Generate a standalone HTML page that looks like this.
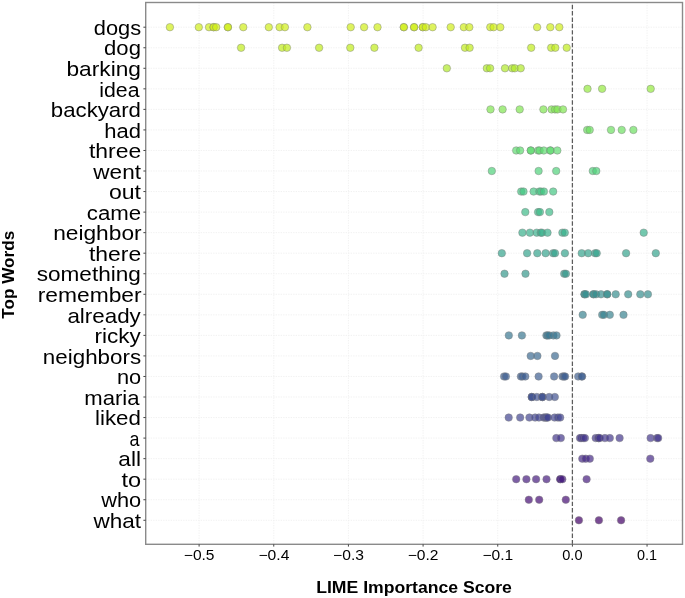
<!DOCTYPE html>
<html><head><meta charset="utf-8"><style>
html,body{margin:0;padding:0;background:#fff;}
body{width:685px;height:598px;overflow:hidden;}
svg{display:block;will-change:transform;font-family:"Liberation Sans",sans-serif;fill:#000;}
text{fill:#000;}
</style></head><body>
<svg width="685" height="598" viewBox="0 0 685 598">
<rect width="685" height="598" fill="#fff"/>
<path d="M199.10 2.50V544.30M273.76 2.50V544.30M348.42 2.50V544.30M423.08 2.50V544.30M497.74 2.50V544.30M572.40 2.50V544.30M647.06 2.50V544.30M145.70 27.20H682.50M145.70 47.75H682.50M145.70 68.29H682.50M145.70 88.84H682.50M145.70 109.38H682.50M145.70 129.93H682.50M145.70 150.47H682.50M145.70 171.01H682.50M145.70 191.56H682.50M145.70 212.11H682.50M145.70 232.65H682.50M145.70 253.19H682.50M145.70 273.74H682.50M145.70 294.29H682.50M145.70 314.83H682.50M145.70 335.38H682.50M145.70 355.92H682.50M145.70 376.47H682.50M145.70 397.01H682.50M145.70 417.56H682.50M145.70 438.10H682.50M145.70 458.65H682.50M145.70 479.19H682.50M145.70 499.74H682.50M145.70 520.28H682.50" stroke="#efefef" stroke-width="0.9" stroke-dasharray="1.3 1.2" fill="none"/>
<line x1="572.4" y1="544.3" x2="572.4" y2="2.5" stroke="#5c5c5c" stroke-width="1.25" stroke-dasharray="4.42 1.951"/>
<g fill="#d0ee19" fill-opacity="0.7" stroke="#808080" stroke-opacity="0.75" stroke-width="0.6"><circle cx="169.9" cy="27.20" r="3.75"/><circle cx="198.8" cy="27.20" r="3.75"/><circle cx="209.0" cy="27.20" r="3.75"/><circle cx="213.6" cy="27.20" r="3.75"/><circle cx="213.6" cy="27.20" r="3.75"/><circle cx="216.2" cy="27.20" r="3.75"/><circle cx="227.9" cy="27.20" r="3.75"/><circle cx="227.9" cy="27.20" r="3.75"/><circle cx="243.3" cy="27.20" r="3.75"/><circle cx="268.8" cy="27.20" r="3.75"/><circle cx="279.6" cy="27.20" r="3.75"/><circle cx="284.9" cy="27.20" r="3.75"/><circle cx="307.4" cy="27.20" r="3.75"/><circle cx="350.7" cy="27.20" r="3.75"/><circle cx="364.1" cy="27.20" r="3.75"/><circle cx="377.5" cy="27.20" r="3.75"/><circle cx="403.8" cy="27.20" r="3.75"/><circle cx="403.8" cy="27.20" r="3.75"/><circle cx="414.1" cy="27.20" r="3.75"/><circle cx="414.1" cy="27.20" r="3.75"/><circle cx="422.8" cy="27.20" r="3.75"/><circle cx="422.8" cy="27.20" r="3.75"/><circle cx="425.8" cy="27.20" r="3.75"/><circle cx="432.6" cy="27.20" r="3.75"/><circle cx="450.7" cy="27.20" r="3.75"/><circle cx="463.8" cy="27.20" r="3.75"/><circle cx="469.3" cy="27.20" r="3.75"/><circle cx="490.3" cy="27.20" r="3.75"/><circle cx="493.6" cy="27.20" r="3.75"/><circle cx="500.3" cy="27.20" r="3.75"/><circle cx="537.1" cy="27.20" r="3.75"/><circle cx="550.3" cy="27.20" r="3.75"/><circle cx="559.3" cy="27.20" r="3.75"/></g>
<g fill="#c1ec1b" fill-opacity="0.7" stroke="#808080" stroke-opacity="0.75" stroke-width="0.6"><circle cx="241.1" cy="47.75" r="3.75"/><circle cx="282.1" cy="47.75" r="3.75"/><circle cx="286.9" cy="47.75" r="3.75"/><circle cx="319.1" cy="47.75" r="3.75"/><circle cx="350.3" cy="47.75" r="3.75"/><circle cx="374.4" cy="47.75" r="3.75"/><circle cx="418.6" cy="47.75" r="3.75"/><circle cx="465.0" cy="47.75" r="3.75"/><circle cx="469.6" cy="47.75" r="3.75"/><circle cx="531.2" cy="47.75" r="3.75"/><circle cx="551.2" cy="47.75" r="3.75"/><circle cx="555.3" cy="47.75" r="3.75"/><circle cx="566.7" cy="47.75" r="3.75"/></g>
<g fill="#b1ea29" fill-opacity="0.7" stroke="#808080" stroke-opacity="0.75" stroke-width="0.6"><circle cx="446.8" cy="68.29" r="3.75"/><circle cx="486.8" cy="68.29" r="3.75"/><circle cx="490.1" cy="68.29" r="3.75"/><circle cx="505.0" cy="68.29" r="3.75"/><circle cx="512.2" cy="68.29" r="3.75"/><circle cx="514.8" cy="68.29" r="3.75"/><circle cx="520.7" cy="68.29" r="3.75"/></g>
<g fill="#94ea3e" fill-opacity="0.7" stroke="#808080" stroke-opacity="0.75" stroke-width="0.6"><circle cx="587.5" cy="88.84" r="3.75"/><circle cx="602.1" cy="88.84" r="3.75"/><circle cx="650.7" cy="88.84" r="3.75"/></g>
<g fill="#80e551" fill-opacity="0.7" stroke="#808080" stroke-opacity="0.75" stroke-width="0.6"><circle cx="490.5" cy="109.38" r="3.75"/><circle cx="502.6" cy="109.38" r="3.75"/><circle cx="519.7" cy="109.38" r="3.75"/><circle cx="543.4" cy="109.38" r="3.75"/><circle cx="551.6" cy="109.38" r="3.75"/><circle cx="555.0" cy="109.38" r="3.75"/><circle cx="557.5" cy="109.38" r="3.75"/><circle cx="563.0" cy="109.38" r="3.75"/></g>
<g fill="#6de062" fill-opacity="0.7" stroke="#808080" stroke-opacity="0.75" stroke-width="0.6"><circle cx="587.2" cy="129.93" r="3.75"/><circle cx="589.7" cy="129.93" r="3.75"/><circle cx="611.0" cy="129.93" r="3.75"/><circle cx="621.7" cy="129.93" r="3.75"/><circle cx="633.4" cy="129.93" r="3.75"/></g>
<g fill="#5fdb70" fill-opacity="0.7" stroke="#808080" stroke-opacity="0.75" stroke-width="0.6"><circle cx="516.2" cy="150.47" r="3.75"/><circle cx="520.1" cy="150.47" r="3.75"/><circle cx="530.8" cy="150.47" r="3.75"/><circle cx="530.8" cy="150.47" r="3.75"/><circle cx="538.1" cy="150.47" r="3.75"/><circle cx="539.6" cy="150.47" r="3.75"/><circle cx="543.8" cy="150.47" r="3.75"/><circle cx="550.4" cy="150.47" r="3.75"/><circle cx="550.4" cy="150.47" r="3.75"/><circle cx="557.3" cy="150.47" r="3.75"/></g>
<g fill="#50d17a" fill-opacity="0.7" stroke="#808080" stroke-opacity="0.75" stroke-width="0.6"><circle cx="491.8" cy="171.01" r="3.75"/><circle cx="538.6" cy="171.01" r="3.75"/><circle cx="556.2" cy="171.01" r="3.75"/><circle cx="592.8" cy="171.01" r="3.75"/><circle cx="596.3" cy="171.01" r="3.75"/></g>
<g fill="#45c683" fill-opacity="0.7" stroke="#808080" stroke-opacity="0.75" stroke-width="0.6"><circle cx="521.2" cy="191.56" r="3.75"/><circle cx="523.5" cy="191.56" r="3.75"/><circle cx="533.6" cy="191.56" r="3.75"/><circle cx="539.3" cy="191.56" r="3.75"/><circle cx="541.0" cy="191.56" r="3.75"/><circle cx="543.9" cy="191.56" r="3.75"/><circle cx="553.2" cy="191.56" r="3.75"/></g>
<g fill="#3ebb89" fill-opacity="0.7" stroke="#808080" stroke-opacity="0.75" stroke-width="0.6"><circle cx="525.3" cy="212.11" r="3.75"/><circle cx="538.1" cy="212.11" r="3.75"/><circle cx="539.9" cy="212.11" r="3.75"/><circle cx="549.3" cy="212.11" r="3.75"/></g>
<g fill="#37b08c" fill-opacity="0.7" stroke="#808080" stroke-opacity="0.75" stroke-width="0.6"><circle cx="522.4" cy="232.65" r="3.75"/><circle cx="529.9" cy="232.65" r="3.75"/><circle cx="536.7" cy="232.65" r="3.75"/><circle cx="540.7" cy="232.65" r="3.75"/><circle cx="542.0" cy="232.65" r="3.75"/><circle cx="547.5" cy="232.65" r="3.75"/><circle cx="562.4" cy="232.65" r="3.75"/><circle cx="564.8" cy="232.65" r="3.75"/><circle cx="643.7" cy="232.65" r="3.75"/></g>
<g fill="#35a48d" fill-opacity="0.7" stroke="#808080" stroke-opacity="0.75" stroke-width="0.6"><circle cx="501.8" cy="253.19" r="3.75"/><circle cx="527.1" cy="253.19" r="3.75"/><circle cx="537.3" cy="253.19" r="3.75"/><circle cx="545.6" cy="253.19" r="3.75"/><circle cx="553.1" cy="253.19" r="3.75"/><circle cx="555.0" cy="253.19" r="3.75"/><circle cx="564.9" cy="253.19" r="3.75"/><circle cx="581.7" cy="253.19" r="3.75"/><circle cx="588.2" cy="253.19" r="3.75"/><circle cx="595.1" cy="253.19" r="3.75"/><circle cx="596.7" cy="253.19" r="3.75"/><circle cx="626.1" cy="253.19" r="3.75"/><circle cx="655.8" cy="253.19" r="3.75"/></g>
<g fill="#36998c" fill-opacity="0.7" stroke="#808080" stroke-opacity="0.75" stroke-width="0.6"><circle cx="504.5" cy="273.74" r="3.75"/><circle cx="525.5" cy="273.74" r="3.75"/><circle cx="564.2" cy="273.74" r="3.75"/><circle cx="565.9" cy="273.74" r="3.75"/></g>
<g fill="#378e8f" fill-opacity="0.7" stroke="#808080" stroke-opacity="0.75" stroke-width="0.6"><circle cx="584.5" cy="294.29" r="3.75"/><circle cx="584.5" cy="294.29" r="3.75"/><circle cx="586.0" cy="294.29" r="3.75"/><circle cx="593.5" cy="294.29" r="3.75"/><circle cx="593.5" cy="294.29" r="3.75"/><circle cx="596.0" cy="294.29" r="3.75"/><circle cx="601.0" cy="294.29" r="3.75"/><circle cx="607.2" cy="294.29" r="3.75"/><circle cx="607.2" cy="294.29" r="3.75"/><circle cx="615.7" cy="294.29" r="3.75"/><circle cx="628.2" cy="294.29" r="3.75"/><circle cx="640.3" cy="294.29" r="3.75"/><circle cx="647.9" cy="294.29" r="3.75"/></g>
<g fill="#398390" fill-opacity="0.7" stroke="#808080" stroke-opacity="0.75" stroke-width="0.6"><circle cx="582.7" cy="314.83" r="3.75"/><circle cx="602.2" cy="314.83" r="3.75"/><circle cx="603.9" cy="314.83" r="3.75"/><circle cx="609.8" cy="314.83" r="3.75"/><circle cx="623.5" cy="314.83" r="3.75"/></g>
<g fill="#3b7791" fill-opacity="0.7" stroke="#808080" stroke-opacity="0.75" stroke-width="0.6"><circle cx="508.8" cy="335.38" r="3.75"/><circle cx="521.9" cy="335.38" r="3.75"/><circle cx="546.4" cy="335.38" r="3.75"/><circle cx="547.5" cy="335.38" r="3.75"/><circle cx="549.2" cy="335.38" r="3.75"/><circle cx="553.4" cy="335.38" r="3.75"/><circle cx="556.5" cy="335.38" r="3.75"/></g>
<g fill="#3d6b92" fill-opacity="0.7" stroke="#808080" stroke-opacity="0.75" stroke-width="0.6"><circle cx="530.7" cy="355.92" r="3.75"/><circle cx="537.4" cy="355.92" r="3.75"/><circle cx="555.0" cy="355.92" r="3.75"/></g>
<g fill="#3e5f92" fill-opacity="0.7" stroke="#808080" stroke-opacity="0.75" stroke-width="0.6"><circle cx="504.1" cy="376.47" r="3.75"/><circle cx="505.9" cy="376.47" r="3.75"/><circle cx="520.9" cy="376.47" r="3.75"/><circle cx="522.4" cy="376.47" r="3.75"/><circle cx="525.3" cy="376.47" r="3.75"/><circle cx="538.6" cy="376.47" r="3.75"/><circle cx="554.1" cy="376.47" r="3.75"/><circle cx="562.5" cy="376.47" r="3.75"/><circle cx="564.0" cy="376.47" r="3.75"/><circle cx="565.1" cy="376.47" r="3.75"/><circle cx="578.2" cy="376.47" r="3.75"/><circle cx="581.9" cy="376.47" r="3.75"/><circle cx="581.9" cy="376.47" r="3.75"/></g>
<g fill="#415292" fill-opacity="0.7" stroke="#808080" stroke-opacity="0.75" stroke-width="0.6"><circle cx="531.8" cy="397.01" r="3.75"/><circle cx="531.8" cy="397.01" r="3.75"/><circle cx="531.8" cy="397.01" r="3.75"/><circle cx="536.8" cy="397.01" r="3.75"/><circle cx="542.3" cy="397.01" r="3.75"/><circle cx="542.3" cy="397.01" r="3.75"/><circle cx="542.3" cy="397.01" r="3.75"/><circle cx="549.2" cy="397.01" r="3.75"/><circle cx="554.8" cy="397.01" r="3.75"/></g>
<g fill="#434691" fill-opacity="0.7" stroke="#808080" stroke-opacity="0.75" stroke-width="0.6"><circle cx="508.7" cy="417.56" r="3.75"/><circle cx="520.2" cy="417.56" r="3.75"/><circle cx="529.4" cy="417.56" r="3.75"/><circle cx="535.1" cy="417.56" r="3.75"/><circle cx="538.9" cy="417.56" r="3.75"/><circle cx="543.6" cy="417.56" r="3.75"/><circle cx="545.0" cy="417.56" r="3.75"/><circle cx="546.0" cy="417.56" r="3.75"/><circle cx="547.0" cy="417.56" r="3.75"/><circle cx="547.9" cy="417.56" r="3.75"/><circle cx="554.6" cy="417.56" r="3.75"/><circle cx="557.9" cy="417.56" r="3.75"/><circle cx="560.2" cy="417.56" r="3.75"/></g>
<g fill="#45388d" fill-opacity="0.7" stroke="#808080" stroke-opacity="0.75" stroke-width="0.6"><circle cx="556.3" cy="438.10" r="3.75"/><circle cx="560.8" cy="438.10" r="3.75"/><circle cx="580.0" cy="438.10" r="3.75"/><circle cx="581.2" cy="438.10" r="3.75"/><circle cx="583.2" cy="438.10" r="3.75"/><circle cx="584.9" cy="438.10" r="3.75"/><circle cx="595.7" cy="438.10" r="3.75"/><circle cx="598.5" cy="438.10" r="3.75"/><circle cx="598.5" cy="438.10" r="3.75"/><circle cx="599.7" cy="438.10" r="3.75"/><circle cx="604.9" cy="438.10" r="3.75"/><circle cx="609.8" cy="438.10" r="3.75"/><circle cx="619.6" cy="438.10" r="3.75"/><circle cx="650.6" cy="438.10" r="3.75"/><circle cx="657.1" cy="438.10" r="3.75"/><circle cx="658.2" cy="438.10" r="3.75"/></g>
<g fill="#462a87" fill-opacity="0.7" stroke="#808080" stroke-opacity="0.75" stroke-width="0.6"><circle cx="582.3" cy="458.65" r="3.75"/><circle cx="585.7" cy="458.65" r="3.75"/><circle cx="589.8" cy="458.65" r="3.75"/><circle cx="650.3" cy="458.65" r="3.75"/></g>
<g fill="#461b7f" fill-opacity="0.7" stroke="#808080" stroke-opacity="0.75" stroke-width="0.6"><circle cx="516.2" cy="479.19" r="3.75"/><circle cx="526.4" cy="479.19" r="3.75"/><circle cx="536.1" cy="479.19" r="3.75"/><circle cx="546.5" cy="479.19" r="3.75"/><circle cx="560.3" cy="479.19" r="3.75"/><circle cx="560.3" cy="479.19" r="3.75"/><circle cx="562.3" cy="479.19" r="3.75"/><circle cx="586.6" cy="479.19" r="3.75"/></g>
<g fill="#450c74" fill-opacity="0.7" stroke="#808080" stroke-opacity="0.75" stroke-width="0.6"><circle cx="528.8" cy="499.74" r="3.75"/><circle cx="539.2" cy="499.74" r="3.75"/><circle cx="565.8" cy="499.74" r="3.75"/></g>
<g fill="#410067" fill-opacity="0.7" stroke="#808080" stroke-opacity="0.75" stroke-width="0.6"><circle cx="578.9" cy="520.28" r="3.75"/><circle cx="598.9" cy="520.28" r="3.75"/><circle cx="621.1" cy="520.28" r="3.75"/></g>
<rect x="145.7" y="2.5" width="536.80" height="541.80" fill="none" stroke="#8a8a8a" stroke-width="1.4"/>
<path d="M143.40 27.20H145.70M143.40 47.75H145.70M143.40 68.29H145.70M143.40 88.84H145.70M143.40 109.38H145.70M143.40 129.93H145.70M143.40 150.47H145.70M143.40 171.01H145.70M143.40 191.56H145.70M143.40 212.11H145.70M143.40 232.65H145.70M143.40 253.19H145.70M143.40 273.74H145.70M143.40 294.29H145.70M143.40 314.83H145.70M143.40 335.38H145.70M143.40 355.92H145.70M143.40 376.47H145.70M143.40 397.01H145.70M143.40 417.56H145.70M143.40 438.10H145.70M143.40 458.65H145.70M143.40 479.19H145.70M143.40 499.74H145.70M143.40 520.28H145.70M199.10 544.30V546.60M273.76 544.30V546.60M348.42 544.30V546.60M423.08 544.30V546.60M497.74 544.30V546.60M572.40 544.30V546.60M647.06 544.30V546.60" stroke="#444" stroke-width="1.0" fill="none"/>
<text transform="translate(93.78 34.90) scale(1.0604 1)" font-size="20.6">dogs</text>
<text transform="translate(104.11 55.45) scale(1.0715 1)" font-size="20.6">dog</text>
<text transform="translate(66.49 75.99) scale(1.1028 1)" font-size="20.6">barking</text>
<text transform="translate(99.26 96.54) scale(1.0336 1)" font-size="20.6">idea</text>
<text transform="translate(50.85 117.08) scale(1.0776 1)" font-size="20.6">backyard</text>
<text transform="translate(104.20 137.62) scale(1.0687 1)" font-size="20.6">had</text>
<text transform="translate(88.99 158.17) scale(1.1133 1)" font-size="20.6">three</text>
<text transform="translate(93.33 178.71) scale(1.0952 1)" font-size="20.6">went</text>
<text transform="translate(108.90 199.26) scale(1.1200 1)" font-size="20.6">out</text>
<text transform="translate(86.82 219.81) scale(1.0800 1)" font-size="20.6">came</text>
<text transform="translate(53.16 240.35) scale(1.1033 1)" font-size="20.6">neighbor</text>
<text transform="translate(88.99 260.89) scale(1.1133 1)" font-size="20.6">there</text>
<text transform="translate(36.68 281.44) scale(1.0973 1)" font-size="20.6">something</text>
<text transform="translate(37.75 301.99) scale(1.1069 1)" font-size="20.6">remember</text>
<text transform="translate(67.41 322.53) scale(1.0857 1)" font-size="20.6">already</text>
<text transform="translate(94.44 343.07) scale(1.0947 1)" font-size="20.6">ricky</text>
<text transform="translate(42.84 363.62) scale(1.0860 1)" font-size="20.6">neighbors</text>
<text transform="translate(116.89 384.17) scale(1.0597 1)" font-size="20.6">no</text>
<text transform="translate(84.25 404.71) scale(1.0725 1)" font-size="20.6">maria</text>
<text transform="translate(95.05 425.25) scale(1.0837 1)" font-size="20.6">liked</text>
<text transform="translate(129.57 445.80) scale(0.8696 1)" font-size="20.6">a</text>
<text transform="translate(118.34 466.35) scale(1.0989 1)" font-size="20.6">all</text>
<text transform="translate(121.57 486.89) scale(1.1433 1)" font-size="20.6">to</text>
<text transform="translate(101.18 507.44) scale(1.0577 1)" font-size="20.6">who</text>
<text transform="translate(93.38 527.98) scale(1.0941 1)" font-size="20.6">what</text>
<text transform="translate(183.79 559.5) scale(1.1202 1)" font-size="13.9">−0.5</text>
<text transform="translate(258.45 559.5) scale(1.1277 1)" font-size="13.9">−0.4</text>
<text transform="translate(333.11 559.5) scale(1.1242 1)" font-size="13.9">−0.3</text>
<text transform="translate(407.77 559.5) scale(1.1186 1)" font-size="13.9">−0.2</text>
<text transform="translate(482.43 559.5) scale(1.1221 1)" font-size="13.9">−0.1</text>
<text transform="translate(562.25 559.5) scale(1.0484 1)" font-size="13.9">0.0</text>
<text transform="translate(636.92 559.5) scale(1.0383 1)" font-size="13.9">0.1</text>
<text transform="translate(316.21 593.2) scale(1.1091 1)" font-size="15.9" font-weight="bold">LIME Importance Score</text>
<text transform="translate(13.6 318.77) rotate(-90) scale(1.0746 1)" font-size="16.0" font-weight="bold">Top Words</text>
</svg>
</body></html>
